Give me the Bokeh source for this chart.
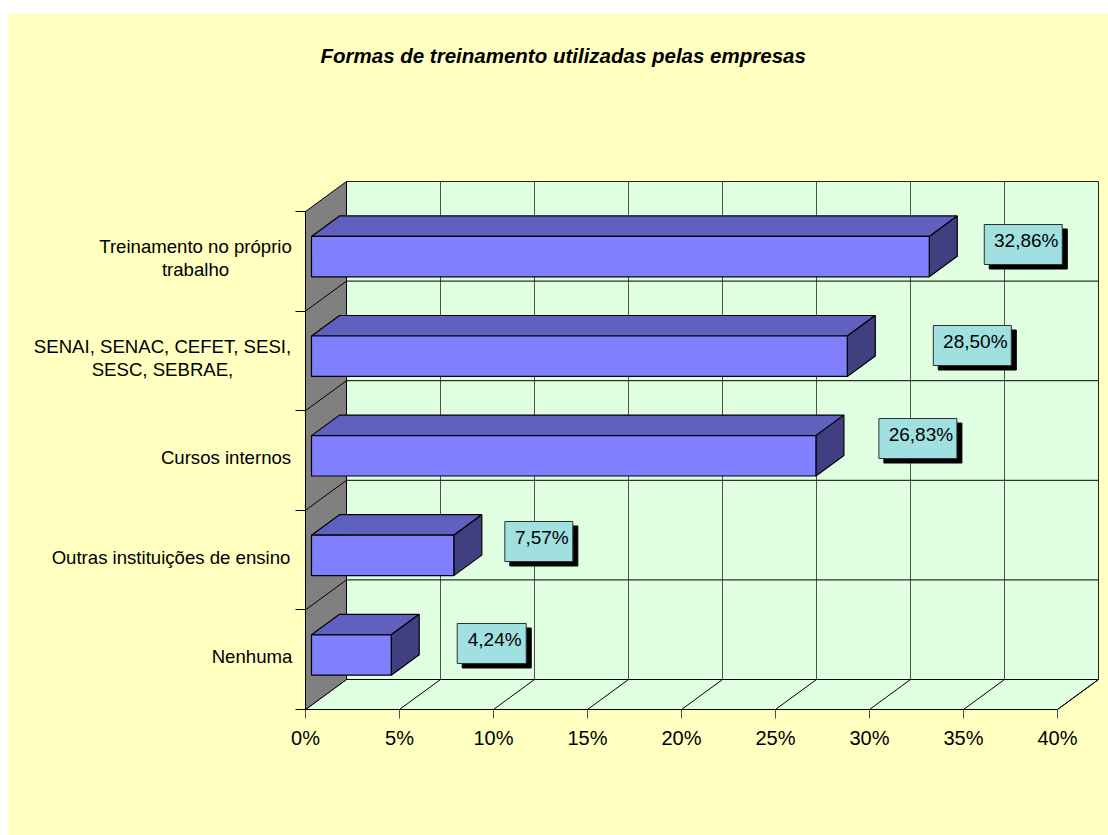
from bokeh.core.properties import value
from bokeh.embed import file_html
from bokeh.models import ColumnDataSource, FixedTicker, Label, LinearAxis, Range1d
from bokeh.plotting import figure
from bokeh.resources import INLINE

# Survey results, top bar first
categories = [
    "Treinamento no próprio\ntrabalho",
    "SENAI, SENAC, CEFET, SESI,\nSESC, SEBRAE,",
    "Cursos internos",
    "Outras instituições de ensino",
    "Nenhuma",
]
percentages = [32.86, 28.50, 26.83, 7.57, 4.24]
value_labels = ["32,86%", "28,50%", "26,83%", "7,57%", "4,24%"]
x_ticks = [0, 5, 10, 15, 20, 25, 30, 35, 40]
chart_title = "Formas de treinamento utilizadas pelas empresas"

# Layout of the oblique projection, in screen pixels
PAGE_X, PAGE_Y = 8, 13
PAGE_W, PAGE_H = 1108, 835
ORIGIN_X, ORIGIN_Y = 305, 709
PX_PER_PCT = 18.8
PX_PER_BAND = 99.6
DEPTH_X = 41 / PX_PER_PCT
DEPTH_Y = 30 / PX_PER_BAND
BAR_Z_FRONT = 6 / 41
BAR_Z_BACK = 34 / 41
BAR_HALF = 20.2 / PX_PER_BAND
BAR_SHIFT = 0.3 / PX_PER_BAND
BOX_W = [78, 78, 78, 68, 69]
BOX_H = 40
BOX_GAP_X = [55, 86, 63, 51, 66]      # from bar end to callout, per bar
BOX_CENTRE_Y = [244, 345, 438, 541, 643]  # screen row of each callout
CAT_CENTRE_X = [195, 162, 225.5, 170.5, 251.5]  # horizontal centre of each name
CAT_LIFT = 3 / PX_PER_BAND

n = len(categories)
band_mid = [n - i - 0.5 for i in range(n)]


def project(pct, band, z):
    return pct + z * DEPTH_X, band + z * DEPTH_Y


def quad3d(points):
    xy = [project(*pt) for pt in points]
    return [a for a, _ in xy], [b for _, b in xy]


# The frame fills the canvas, so axes sit at fixed locations inside it
p = figure(
    width=PAGE_W - PAGE_X,
    height=PAGE_H - PAGE_Y,
    x_range=Range1d((PAGE_X - ORIGIN_X) / PX_PER_PCT, (PAGE_W - ORIGIN_X) / PX_PER_PCT),
    y_range=Range1d((ORIGIN_Y - PAGE_H) / PX_PER_BAND, (ORIGIN_Y - PAGE_Y) / PX_PER_BAND),
    output_backend="svg",
    toolbar_location=None,
    x_axis_location=None,
    y_axis_location=None,
    min_border=0,
    background_fill_color="#FFFFC0",
    border_fill_color="#FFFFC0",
    outline_line_color=None,
    margin=(PAGE_Y, 0, 0, PAGE_X),
)
p.grid.visible = False

p.add_layout(Label(
    x=320 - PAGE_X,
    y=PAGE_H - 55,
    x_units="screen",
    y_units="screen",
    text=chart_title,
    text_font="Liberation Sans",
    text_font_size="20.5px",
    text_font_style="bold italic",
    text_color="#000000",
    text_align="left",
    text_baseline="middle",
))

# Walls and floor
WALL = "#E0FFE0"
xs, ys = quad3d([(0, 0, 1), (40, 0, 1), (40, n, 1), (0, n, 1)])
p.patch(xs, ys, fill_color=WALL, line_color="#202020", line_width=1)
xs, ys = quad3d([(0, 0, 0), (40, 0, 0), (40, 0, 1), (0, 0, 1)])
p.patch(xs, ys, fill_color=WALL, line_color="#000000", line_width=1)
xs, ys = quad3d([(0, 0, 0), (0, 0, 1), (0, n, 1), (0, n, 0)])
p.patch(xs, ys, fill_color="#808080", line_color="#000000", line_width=1)

# Gridlines on the back wall, floor and side wall
for t in x_ticks[1:-1]:
    xs, ys = quad3d([(t, 0, 1), (t, n, 1)])
    p.line(xs, ys, line_color="#505050", line_width=1)
for t in x_ticks[1:]:
    xs, ys = quad3d([(t, 0, 0), (t, 0, 1)])
    p.line(xs, ys, line_color="#000000", line_width=1)
for b in range(1, n):
    xs, ys = quad3d([(0, b, 1), (40, b, 1)])
    p.line(xs, ys, line_color="#000000", line_width=1)
    xs, ys = quad3d([(0, b, 0), (0, b, 1)])
    p.line(xs, ys, line_color="#000000", line_width=1)

# Bars, each with its front, top and end face
for v, mid in zip(percentages, band_mid):
    lo, hi = mid - BAR_HALF + BAR_SHIFT, mid + BAR_HALF + BAR_SHIFT
    xs, ys = quad3d([(0, hi, BAR_Z_FRONT), (v, hi, BAR_Z_FRONT), (v, hi, BAR_Z_BACK), (0, hi, BAR_Z_BACK)])
    p.patch(xs, ys, fill_color="#6060C0", line_color="#000000", line_width=1.2)
    xs, ys = quad3d([(v, lo, BAR_Z_FRONT), (v, lo, BAR_Z_BACK), (v, hi, BAR_Z_BACK), (v, hi, BAR_Z_FRONT)])
    p.patch(xs, ys, fill_color="#404080", line_color="#000000", line_width=1.2)
    xs, ys = quad3d([(0, lo, BAR_Z_FRONT), (v, lo, BAR_Z_FRONT), (v, hi, BAR_Z_FRONT), (0, hi, BAR_Z_FRONT)])
    p.patch(xs, ys, fill_color="#8080FF", line_color="#000000", line_width=1.2)

# Value callouts with drop shadow
left = [project(v, 0, BAR_Z_FRONT)[0] + gap / PX_PER_PCT for v, gap in zip(percentages, BOX_GAP_X)]
right = [l + w / PX_PER_PCT for l, w in zip(left, BOX_W)]
centre = [(ORIGIN_Y - row) / PX_PER_BAND for row in BOX_CENTRE_Y]
top = [c + BOX_H / 2 / PX_PER_BAND for c in centre]
bottom = [c - BOX_H / 2 / PX_PER_BAND for c in centre]
SHADOW_X, SHADOW_Y = 5 / PX_PER_PCT, 4.5 / PX_PER_BAND
p.quad(
    left=[l + SHADOW_X for l in left],
    right=[r + SHADOW_X for r in right],
    top=[t - SHADOW_Y for t in top],
    bottom=[b - SHADOW_Y for b in bottom],
    fill_color="#000000",
    line_color="#000000",
)
p.quad(left=left, right=right, top=top, bottom=bottom,
       fill_color="#A0E0E0", line_color="#303030", line_width=1)
labels = ColumnDataSource(dict(
    x=[(l + r) / 2 + 3 / PX_PER_PCT for l, r in zip(left, right)],
    y=[c + 4 / PX_PER_BAND for c in centre],
    text=value_labels,
))
p.text(x="x", y="y", text="text", source=labels, text_align="center",
       text_baseline="middle", text_font=value("Liberation Sans"),
       text_font_size="19px", text_color="#000000")

# Percentage axis along the front of the floor
x_axis = LinearAxis(
    ticker=FixedTicker(ticks=x_ticks),
    major_label_overrides={t: f"{t}%" for t in x_ticks},
    major_label_text_font="Liberation Sans",
    major_label_text_font_size="20px",
    major_label_text_color="#000000",
    major_label_standoff=8,
    major_tick_in=0,
    major_tick_out=9,
    major_tick_line_color="#505050",
    minor_tick_line_color=None,
    axis_line_color="#000000",
    bounds=(0, 40),
    fixed_location=0,
)
p.add_layout(x_axis, "below")

# Band boundary ticks on the wall's front edge
band_ticks = list(range(n + 1))
y_axis = LinearAxis(
    ticker=FixedTicker(ticks=band_ticks),
    major_label_overrides={b: "" for b in band_ticks},
    major_label_standoff=0,
    major_tick_in=0,
    major_tick_out=10,
    major_tick_line_color="#000000",
    minor_tick_line_color=None,
    axis_line_color="#000000",
    bounds=(0, n),
    fixed_location=0,
)
p.add_layout(y_axis, "left")

# Category names centred on each band, multi-line names centred line by line
names = ColumnDataSource(dict(
    x=[(cx - ORIGIN_X) / PX_PER_PCT for cx in CAT_CENTRE_X],
    y=[mid + CAT_LIFT for mid in band_mid],
    text=categories,
))
p.text(x="x", y="y", text="text", source=names, text_align="center",
       text_baseline="middle", text_font=value("Liberation Sans"),
       text_font_size="18.6px", text_color="#000000", text_line_height=1.09)

open("out.html", "w").write(file_html(p, INLINE))
